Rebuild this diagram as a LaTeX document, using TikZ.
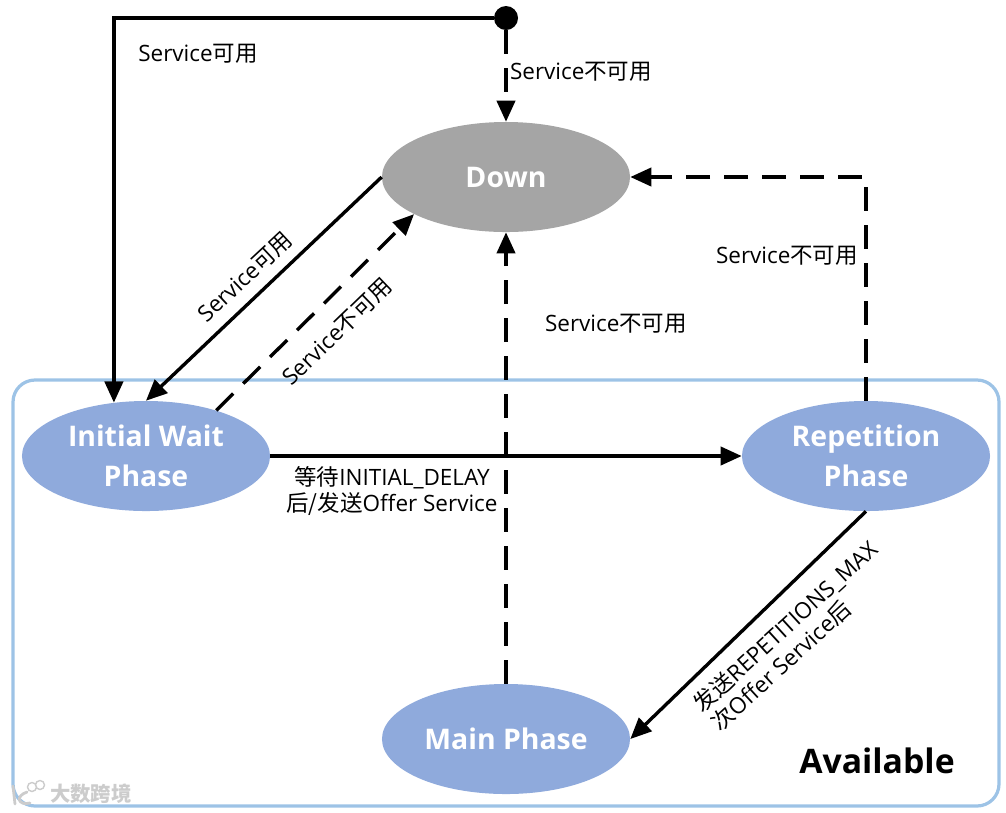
\documentclass[tikz,border=0pt]{standalone}
\usepackage{fontspec}
\setmainfont{Open Sans}
\newfontfamily\cjkfont{Noto Sans CJK SC}
\newcommand{\zh}[1]{{\cjkfont #1}}
\usetikzlibrary{arrows.meta}
\usetikzlibrary{shapes.geometric}

\definecolor{stateblue}{HTML}{8FAADC}
\definecolor{stategray}{HTML}{A5A5A5}
\definecolor{boxblue}{HTML}{9DC3E6}
\definecolor{markgray}{HTML}{CCCCCC}

\tikzset{
    state/.style={ellipse, fill=stateblue, text=white, minimum width=6.2cm, minimum height=2.75cm,
        inner sep=0pt, align=center, font=\fontsize{20.2}{28}\selectfont\bfseries},
    solidline/.style={line width=2.4pt, -{Triangle[length=15pt,width=13pt]}},
    dashline/.style={solidline, dash pattern=on 17pt off 10pt},
    lbl/.style={inner sep=0pt, align=center, font=\fontsize{16}{18.5}\selectfont},
}

\begin{document}
\begin{tikzpicture}[x=0.025cm, y=-0.025cm]
    \useasboundingbox (0, 0) rectangle (1006, 812);

    % available area
    \draw[boxblue, line width=2.3pt, rounded corners=0.55cm] (13, 380) rectangle (999, 806);
    \node[inner sep=0pt, font=\fontsize{24}{28}\selectfont\bfseries] (avail) at (877, 761) {Available};

    % states
    \node[circle, fill=black, minimum size=0.6cm, inner sep=0pt] (start) at (506, 18) {};
    \node[state, fill=stategray] (down) at (506, 177) {Down};
    \node[state] (init) at (146, 456) {Initial Wait\\Phase};
    \node[state] (rep) at (866, 456) {Repetition\\Phase};
    \node[state] (main) at (506, 739) {Main Phase};

    % transitions
    \draw[solidline] (start.west) -| (init.121);
    \draw[dashline] (start.south) -- (down.north);
    \draw[solidline] (down.west) -- (init.north);
    \draw[dashline] (init.33.5) -- (down.202.3);
    \draw[solidline] (init.east) -- (rep.west);
    \draw[dashline] (main.north) -- (down.south);
    \draw[dashline] (rep.north) |- (down.east);
    \draw[solidline] (rep.south) -- (main.east);

    % labels
    \node[lbl] (l1) at (198, 54) {Service\zh{可用}};
    \node[lbl] (l2) at (581, 72) {Service\zh{不可用}};
    \node[lbl] (l3) at (787, 256) {Service\zh{不可用}};
    \node[lbl] (l4) at (616, 324) {Service\zh{不可用}};
    \node[lbl, rotate=43] (l5) at (245, 277) {Service\zh{可用}};
    \node[lbl, rotate=44] (l6) at (337, 332) {Service\zh{不可用}};
    \node[lbl] (l7) at (392, 491) {\zh{等待}INITIAL\_DELAY\\\zh{后/发送}Offer Service};
    \node[lbl, align=left, rotate=42.5] (l8) at (794, 636) {\zh{发送}REPETITIONS\_MAX\\\zh{次}Offer Service\zh{后}};

    % watermark
    \node[inner sep=0pt, text=markgray, font=\fontsize{14.5}{16}\selectfont\bfseries\cjkfont] (wm) at (91, 794) {大数跨境};
    \draw[markgray, line width=2pt, line cap=round] (13, 786) -- (15, 804);
    \draw[markgray, line width=2pt, line cap=round] (27, 792) .. controls (15, 796) and (18, 806) .. (30, 803);
    \draw[markgray, line width=1pt] (32, 787) circle (4.5) (40, 785) circle (4.5);
\end{tikzpicture}
\end{document}
